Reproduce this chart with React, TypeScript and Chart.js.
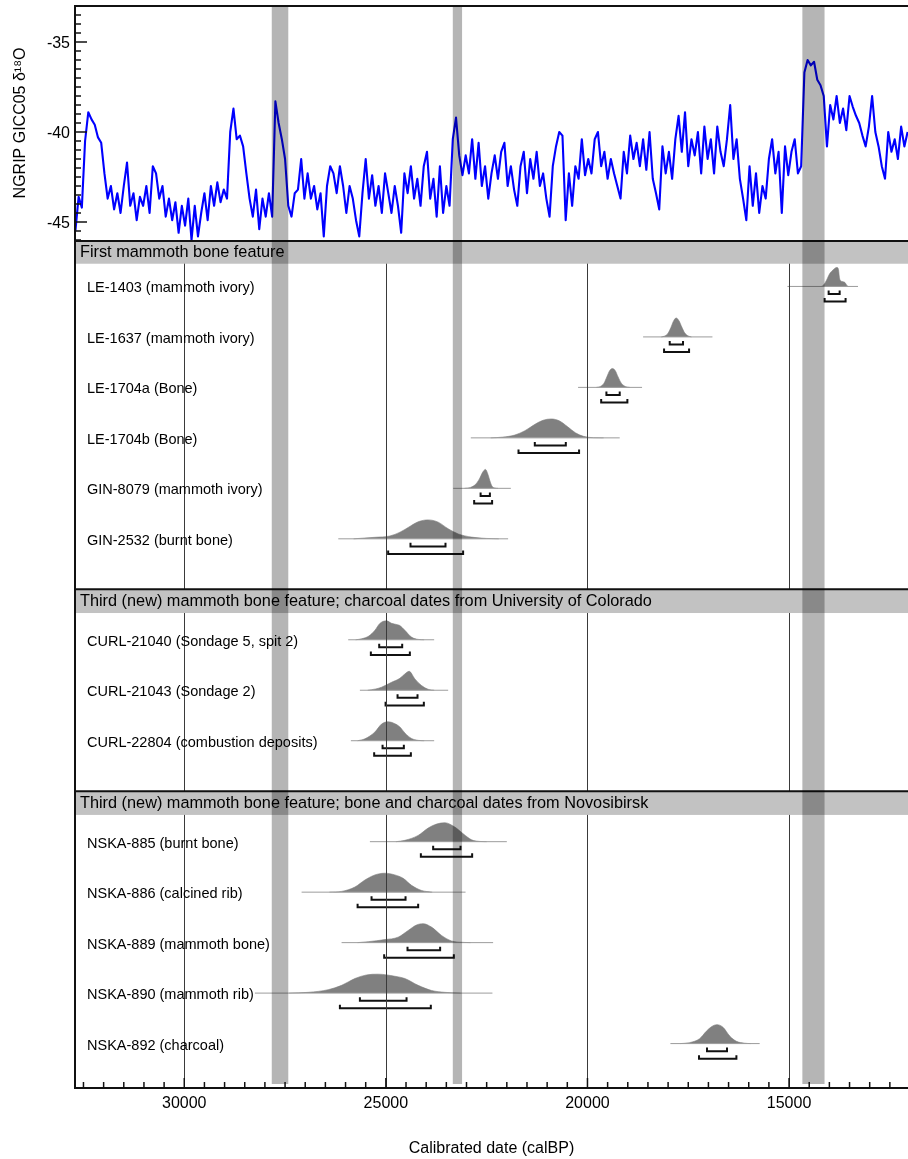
import React, { useEffect, useRef } from 'react';
import { Chart, registerables } from 'chart.js';

Chart.register(...registerables);

// ---------------- data ----------------
const xAxisMin = 12050;
const xAxisMax = 32710;
const xMajorTicks = [15000, 20000, 25000, 30000];
const xMinorTicks = [12500, 13000, 13500, 14000, 14500, 15000, 15500, 16000, 16500, 17000, 17500, 18000, 18500, 19000, 19500, 20000, 20500, 21000, 21500, 22000, 22500, 23000, 23500, 24000, 24500, 25000, 25500, 26000, 26500, 27000, 27500, 28000, 28500, 29000, 29500, 30000, 30500, 31000, 31500, 32000, 32500];

const ngripStartBP = 32700;
const ngripStepYears = 80;
const ngripD18O = [
  -45.5, -43.6, -44.2, -40.5, -38.9, -39.3, -39.6, -40.3, -40.6, -42.3,
  -43.7, -43.0, -44.3, -43.4, -44.5, -43.0, -41.7, -44.1, -43.4, -44.9,
  -43.6, -44.1, -43.0, -44.5, -41.9, -42.3, -43.7, -43.0, -44.7, -43.7,
  -44.9, -43.9, -45.6, -44.1, -45.2, -43.7, -46.0, -44.1, -45.8, -44.5,
  -43.4, -44.9, -43.0, -44.1, -42.8, -43.9, -43.2, -43.7, -40.0, -38.7,
  -40.4, -40.2, -40.8, -42.3, -43.7, -44.7, -43.2, -45.4, -43.7, -44.7,
  -43.4, -44.7, -38.3, -39.5, -40.4, -41.5, -44.1, -44.7, -43.4, -43.2,
  -41.5, -43.7, -42.3, -43.7, -43.0, -44.3, -43.4, -45.8, -43.0, -41.9,
  -42.3, -43.4, -41.9, -43.0, -44.5, -43.0, -43.7, -44.9, -45.8, -43.4,
  -41.5, -43.7, -42.4, -44.1, -43.0, -44.5, -42.3, -43.4, -44.5, -43.0,
  -44.1, -45.6, -42.3, -43.4, -41.9, -43.7, -42.6, -44.1, -41.9, -41.1,
  -43.7, -42.6, -44.7, -41.9, -44.5, -43.0, -44.1, -40.4, -39.2, -41.3,
  -42.4, -41.3, -42.3, -40.4, -42.6, -40.6, -43.0, -41.9, -43.7, -42.3,
  -41.3, -42.6, -41.1, -40.6, -43.0, -41.9, -43.2, -44.1, -41.9, -41.1,
  -43.4, -41.5, -42.6, -41.1, -43.0, -42.3, -43.7, -44.7, -41.9, -40.8,
  -40.0, -40.2, -44.9, -42.3, -44.1, -41.9, -42.6, -40.4, -42.4, -41.5,
  -42.3, -40.4, -40.0, -41.9, -41.1, -42.6, -41.5, -42.3, -43.0, -43.7,
  -41.1, -42.3, -40.2, -41.5, -40.6, -41.9, -40.4, -42.1, -40.0, -42.6,
  -43.4, -44.3, -40.8, -42.3, -41.1, -42.6, -40.4, -39.1, -41.1, -38.9,
  -41.9, -40.4, -41.3, -40.0, -42.3, -39.7, -41.5, -40.4, -42.3, -39.7,
  -41.1, -41.9, -40.4, -38.5, -41.5, -40.4, -42.6, -43.7, -44.9, -41.9,
  -44.1, -42.3, -44.5, -43.0, -43.7, -41.5, -40.4, -42.3, -41.1, -44.5,
  -40.8, -42.4, -41.1, -40.4, -42.3, -41.9, -36.7, -36.0, -36.3, -36.1,
  -37.1, -37.4, -38.0, -40.8, -38.5, -39.3, -38.0, -39.5, -38.7, -39.9,
  -38.0, -38.6, -39.1, -39.5, -40.2, -40.8, -39.7, -38.0, -40.0, -40.8,
  -41.9, -42.6, -40.0, -41.1, -40.4, -41.5, -39.7, -40.8, -40.0,
];

const yTopMin = -46;
const yTopMax = -33;
const yTopMajor = [-45, -40, -35];
const yTopMinor = [-46, -45.5, -45, -44.5, -44, -43.5, -43, -42.5, -42, -41.5, -41, -40.5, -40, -39.5, -39, -38.5, -38, -37.5, -37, -36.5, -36, -35.5, -35, -34.5, -34, -33.5, -33];

const coolingBands = [
  [27830, 27420],
  [23340, 23110],
  [14670, 14120],
];

const groupTitles = [
  'First mammoth bone feature',
  'Third (new) mammoth bone feature; charcoal dates from University of Colorado',
  'Third (new) mammoth bone feature; bone and charcoal dates from Novosibirsk',
];
const groupSizes = [6, 3, 5];

const sampleLabels = [
  'LE-1403 (mammoth ivory)',
  'LE-1637 (mammoth ivory)',
  'LE-1704a (Bone)',
  'LE-1704b (Bone)',
  'GIN-8079 (mammoth ivory)',
  'GIN-2532 (burnt bone)',
  'CURL-21040 (Sondage 5, spit 2)',
  'CURL-21043 (Sondage 2)',
  'CURL-22804 (combustion deposits)',
  'NSKA-885 (burnt bone)',
  'NSKA-886 (calcined rib)',
  'NSKA-889 (mammoth bone)',
  'NSKA-890 (mammoth rib)',
  'NSKA-892 (charcoal)',
];

// full extent of the calibrated distribution (the thin baseline)
const calExtent = [
  [15040, 13290], [18620, 16900], [20233, 18646], [22893, 19200], [23330, 21900], [26180, 21968],
  [25934, 23802], [25644, 23455], [25868, 23802],
  [25396, 22000], [27090, 23024], [26098, 22340], [28248, 22357], [17943, 15729],
];
// 68.2% ranges
const range68 = [
  [14018, 13745], [17960, 17630], [19530, 19200], [21306, 20537], [22650, 22420], [24389, 23521],
  [25165, 24595], [24710, 24215], [25082, 24554],
  [23827, 23148], [25355, 24512], [24463, 23654], [25644, 24487], [17035, 16539],
];
// 95.4% ranges
const range95 = [
  [14118, 13598], [18100, 17480], [19660, 19010], [21710, 20208], [22810, 22365], [24943, 23084],
  [25372, 24405], [25007, 24058], [25290, 24380],
  [24132, 22860], [25701, 24199], [25042, 23314], [26140, 23885], [17233, 16306],
];

// probability density profiles [calBP, relative height]
const dLE1403 = [[14200, 0], [14140, 0.08], [14075, 0.31], [13993, 0.67], [13910, 0.87], [13850, 0.98], [13810, 1.0], [13775, 0.9], [13750, 0.45], [13720, 0.3], [13660, 0.25], [13610, 0.2], [13570, 0.06], [13530, 0]];
const dLE1637 = [[18170, 0], [18080, 0.05], [18000, 0.2], [17930, 0.5], [17870, 0.82], [17800, 1.0], [17730, 0.85], [17660, 0.52], [17590, 0.22], [17510, 0.06], [17420, 0]];
const dLE1704a = [[19780, 0], [19680, 0.05], [19590, 0.22], [19520, 0.55], [19450, 0.88], [19380, 1.0], [19310, 0.88], [19240, 0.55], [19160, 0.22], [19060, 0.05], [18950, 0]];
const dLE1704b = [[22400, 0], [22100, 0.04], [21800, 0.15], [21550, 0.38], [21300, 0.72], [21100, 0.93], [20900, 1.0], [20700, 0.9], [20500, 0.6], [20300, 0.27], [20100, 0.08], [19850, 0.01], [19600, 0]];
const dGIN8079 = [[23050, 0], [22900, 0.05], [22780, 0.2], [22680, 0.5], [22600, 0.85], [22530, 1.0], [22470, 0.75], [22420, 0.4], [22370, 0.12], [22300, 0.02], [22220, 0]];
const dGIN2532 = [[25800, 0], [25270, 0.08], [24900, 0.15], [24650, 0.35], [24447, 0.6], [24199, 0.9], [23951, 1.0], [23703, 0.88], [23455, 0.53], [23207, 0.26], [22875, 0.09], [22500, 0.02], [22200, 0]];
const dCURL21040 = [[25750, 0], [25603, 0.05], [25420, 0.2], [25272, 0.5], [25150, 0.86], [24982, 1.0], [24860, 0.87], [24720, 0.8], [24653, 0.75], [24529, 0.5], [24364, 0.14], [24199, 0.02], [24050, 0]];
const dCURL21043 = [[25450, 0], [25250, 0.07], [25107, 0.16], [24859, 0.42], [24653, 0.63], [24529, 0.86], [24422, 1.0], [24281, 0.6], [24116, 0.25], [23951, 0.05], [23800, 0]];
const dCURL22804 = [[25700, 0], [25520, 0.1], [25272, 0.46], [25107, 0.88], [24942, 1.0], [24777, 0.9], [24653, 0.73], [24529, 0.41], [24364, 0.12], [24199, 0.02], [24050, 0]];
const dNSKA885 = [[24750, 0], [24529, 0.07], [24199, 0.33], [23951, 0.72], [23744, 0.93], [23537, 1.0], [23289, 0.77], [23083, 0.42], [22875, 0.1], [22650, 0.01], [22500, 0]];
const dNSKA886 = [[26400, 0], [26098, 0.04], [25768, 0.27], [25520, 0.64], [25272, 0.91], [25025, 1.0], [24777, 0.91], [24571, 0.73], [24364, 0.36], [24116, 0.09], [23850, 0]];
const dNSKA889 = [[25700, 0], [25438, 0.05], [25025, 0.16], [24695, 0.29], [24447, 0.64], [24240, 0.93], [24075, 1.0], [23868, 0.82], [23620, 0.38], [23372, 0.09], [23042, 0.01], [22900, 0]];
const dNSKA890 = [[27400, 0], [26926, 0.04], [26430, 0.18], [26098, 0.41], [25768, 0.77], [25479, 0.96], [25190, 1.0], [24777, 0.89], [24529, 0.77], [24199, 0.41], [23868, 0.14], [23537, 0.04], [23150, 0]];
const dNSKA892 = [[17700, 0], [17467, 0.05], [17218, 0.26], [17053, 0.65], [16926, 0.89], [16787, 1.0], [16638, 0.86], [16472, 0.4], [16306, 0.12], [16100, 0.02], [15950, 0]];

const densityCurves = [
  dLE1403, dLE1637, dLE1704a, dLE1704b, dGIN8079, dGIN2532,
  dCURL21040, dCURL21043, dCURL22804,
  dNSKA885, dNSKA886, dNSKA889, dNSKA890, dNSKA892,
];

// ---------------- layout (row units) ----------------
const ROW_SHIFT = 0.08;
const HEADER_H = 0.47;
const PEAK_H = 0.375;
const BR68 = 0.15;
const BR95 = 0.3;
const BR_TICK = 0.07;
const Y_BOT_MAX = 16.8;

const FONT = '"Liberation Sans", Arial, Helvetica, sans-serif';

const rowPos: number[] = [];
const headerPos: number[] = [];
(() => {
  let slot = 0;
  groupSizes.forEach((n, g) => {
    headerPos.push(g === 0 ? 0 : slot - ROW_SHIFT);
    slot++;
    for (let k = 0; k < n; k++) {
      rowPos.push(slot - ROW_SHIFT);
      slot++;
    }
  });
})();

function drawBands(chart: any, y1: number, y2: number) {
  const { ctx, scales } = chart;
  const xs = scales.x;
  ctx.save();
  ctx.fillStyle = 'rgba(0,0,0,0.29)';
  for (const [a, b] of coolingBands) {
    const p1 = xs.getPixelForValue(a);
    const p2 = xs.getPixelForValue(b);
    ctx.fillRect(Math.min(p1, p2), y1, Math.abs(p2 - p1), y2 - y1);
  }
  ctx.restore();
}

function seg(ctx: any, x1: number, y1: number, x2: number, y2: number) {
  ctx.beginPath();
  ctx.moveTo(x1, y1);
  ctx.lineTo(x2, y2);
  ctx.stroke();
}

const topPlugin = {
  id: 'topDecor',
  afterDatasetsDraw(chart: any) {
    const { ctx, chartArea: ca, scales } = chart;
    drawBands(chart, ca.top, ca.bottom);
    ctx.save();
    ctx.strokeStyle = '#111';
    ctx.lineWidth = 2;
    seg(ctx, ca.left, ca.top, ca.right, ca.top);
    seg(ctx, ca.left, ca.top - 1, ca.left, ca.bottom);
    ctx.lineWidth = 1.5;
    for (const v of yTopMinor) {
      const py = scales.y.getPixelForValue(v);
      const len = yTopMajor.includes(v) ? 12 : 6;
      seg(ctx, ca.left, py, ca.left + len, py);
    }
    // major tick labels
    ctx.fillStyle = '#000';
    ctx.font = `16px ${FONT}`;
    ctx.textAlign = 'right';
    ctx.textBaseline = 'alphabetic';
    for (const v of yTopMajor) {
      const py = scales.y.getPixelForValue(v);
      ctx.fillText(String(v), ca.left - 5, py + 5.8);
    }
    ctx.restore();
  },
};

const botPlugin = {
  id: 'botDecor',
  afterDatasetsDraw(chart: any) {
    const { ctx, chartArea: ca, scales } = chart;
    const xs = scales.x;
    const ys = scales.y;
    ctx.save();
    // vertical grid lines
    ctx.strokeStyle = '#3a3a3a';
    ctx.lineWidth = 1;
    for (const v of xMajorTicks) {
      const px = Math.round(xs.getPixelForValue(v)) + 0.5;
      seg(ctx, px, ca.top, px, ca.bottom);
    }
    // group headers
    headerPos.forEach((hp, g) => {
      const t = ys.getPixelForValue(hp);
      const b = ys.getPixelForValue(hp + HEADER_H);
      ctx.fillStyle = '#c2c2c2';
      ctx.fillRect(ca.left, t, ca.right - ca.left, b - t);
      ctx.fillStyle = '#000';
      ctx.font = `16.3px ${FONT}`;
      ctx.textAlign = 'left';
      ctx.textBaseline = 'middle';
      ctx.fillText(groupTitles[g], ca.left + 5, (t + b) / 2 + 0.5);
      ctx.strokeStyle = '#111';
      ctx.lineWidth = 2;
      const sy = g === 0 ? t + 1 : t;
      seg(ctx, ca.left, sy, ca.right, sy);
    });
    // row labels
    ctx.fillStyle = '#000';
    ctx.font = `14.5px ${FONT}`;
    ctx.textAlign = 'left';
    ctx.textBaseline = 'middle';
    rowPos.forEach((rp, i) => {
      ctx.fillText(sampleLabels[i], ca.left + 12, ys.getPixelForValue(rp) + 2);
    });
    ctx.restore();
    drawBands(chart, ca.top, ca.bottom - 4);
    ctx.save();
    ctx.strokeStyle = '#111';
    ctx.lineWidth = 2;
    seg(ctx, ca.left, ca.top, ca.left, ca.bottom + 1);
    seg(ctx, ca.left - 1, ca.bottom, ca.right, ca.bottom);
    ctx.lineWidth = 1.5;
    for (const v of xMinorTicks) {
      const px = xs.getPixelForValue(v);
      const len = xMajorTicks.includes(v) ? 10 : 6;
      seg(ctx, px, ca.bottom, px, ca.bottom - len);
    }
    ctx.restore();
  },
};

export default function App() {
  const topRef = useRef<HTMLCanvasElement>(null);
  const botRef = useRef<HTMLCanvasElement>(null);

  useEffect(() => {
    const topChart = new Chart(topRef.current as HTMLCanvasElement, {
      type: 'line',
      data: {
        datasets: [
          {
            data: ngripD18O.map((v, i) => ({ x: ngripStartBP - i * ngripStepYears, y: v })),
            borderColor: '#0000ff',
            borderWidth: 2.1,
            borderJoinStyle: 'round',
            pointRadius: 0,
            tension: 0,
            fill: false,
          },
        ],
      },
      options: {
        animation: false,
        responsive: false,
        events: [],
        layout: { padding: { top: 6, left: 0, right: 0, bottom: 0 } },
        plugins: { legend: { display: false }, tooltip: { enabled: false } },
        scales: {
          x: { type: 'linear', min: xAxisMin, max: xAxisMax, reverse: true, display: false },
          y: {
            type: 'linear',
            min: yTopMin,
            max: yTopMax,
            grid: { display: false, drawTicks: false },
            border: { display: false },
            ticks: { display: false, stepSize: 1 },
            title: {
              display: true,
              text: 'NGRIP GICC05 δ¹⁸O',
              color: '#000',
              font: { family: FONT, size: 16 },
              padding: { top: 11, bottom: 0 },
            },
            afterFit: (s: any) => {
              s.width = 75;
              s.paddingTop = 0;
              s.paddingBottom = 0;
            },
          },
        },
      } as any,
      plugins: [topPlugin],
    });

    const datasets: any[] = [];
    rowPos.forEach((yb, i) => {
      datasets.push({
        data: calExtent[i].map((x) => ({ x, y: yb })),
        borderColor: '#9c9c9c',
        borderWidth: 1,
        pointRadius: 0,
        fill: false,
      });
      datasets.push({
        data: densityCurves[i].map(([x, h]) => ({ x, y: yb - h * PEAK_H })),
        borderColor: '#7c7c7c',
        borderWidth: 0.6,
        backgroundColor: '#808080',
        fill: { value: yb },
        cubicInterpolationMode: 'monotone',
        pointRadius: 0,
      });
      for (const [r, off] of [[range68[i], BR68], [range95[i], BR95]] as any) {
        const yy = yb + off;
        datasets.push({
          data: [
            { x: r[0], y: yy - BR_TICK },
            { x: r[0], y: yy },
            { x: r[1], y: yy },
            { x: r[1], y: yy - BR_TICK },
          ],
          borderColor: '#111',
          borderWidth: 2,
          borderJoinStyle: 'miter',
          pointRadius: 0,
          fill: false,
          tension: 0,
        });
      }
    });

    const botChart = new Chart(botRef.current as HTMLCanvasElement, {
      type: 'line',
      data: { datasets },
      options: {
        animation: false,
        responsive: false,
        events: [],
        layout: { padding: { top: 0, left: 75, right: 0, bottom: 0 } },
        plugins: { legend: { display: false }, tooltip: { enabled: false } },
        scales: {
          x: {
            type: 'linear',
            min: xAxisMin,
            max: xAxisMax,
            reverse: true,
            position: 'bottom',
            grid: { display: false, drawTicks: false },
            border: { display: false },
            afterBuildTicks: (s: any) => {
              s.ticks = xMajorTicks.map((v) => ({ value: v }));
            },
            ticks: {
              autoSkip: false,
              maxRotation: 0,
              padding: 6,
              color: '#000',
              font: { family: FONT, size: 16 },
              callback: (v: any) => String(v),
            },
            title: {
              display: true,
              text: 'Calibrated date (calBP)',
              color: '#000',
              font: { family: FONT, size: 16 },
              padding: { top: 0, bottom: 1 },
            },
            afterFit: (s: any) => {
              s.height = 71;
              s.paddingLeft = 0;
              s.paddingRight = 0;
            },
          },
          y: { type: 'linear', min: 0, max: Y_BOT_MAX, reverse: true, display: false },
        },
      } as any,
      plugins: [botPlugin],
    });

    return () => {
      topChart.destroy();
      botChart.destroy();
    };
  }, []);

  return (
    <div style={{ position: 'absolute', left: 0, top: 0, width: 908, height: 1159, background: '#fff' }}>
      <div style={{ position: 'absolute', left: 0, top: 0, width: 908, height: 240 }}>
        <canvas ref={topRef} width={908} height={240} style={{ width: 908, height: 240, display: 'block' }} />
      </div>
      <div style={{ position: 'absolute', left: 0, top: 240, width: 908, height: 919 }}>
        <canvas ref={botRef} width={908} height={919} style={{ width: 908, height: 919, display: 'block' }} />
      </div>
    </div>
  );
}
